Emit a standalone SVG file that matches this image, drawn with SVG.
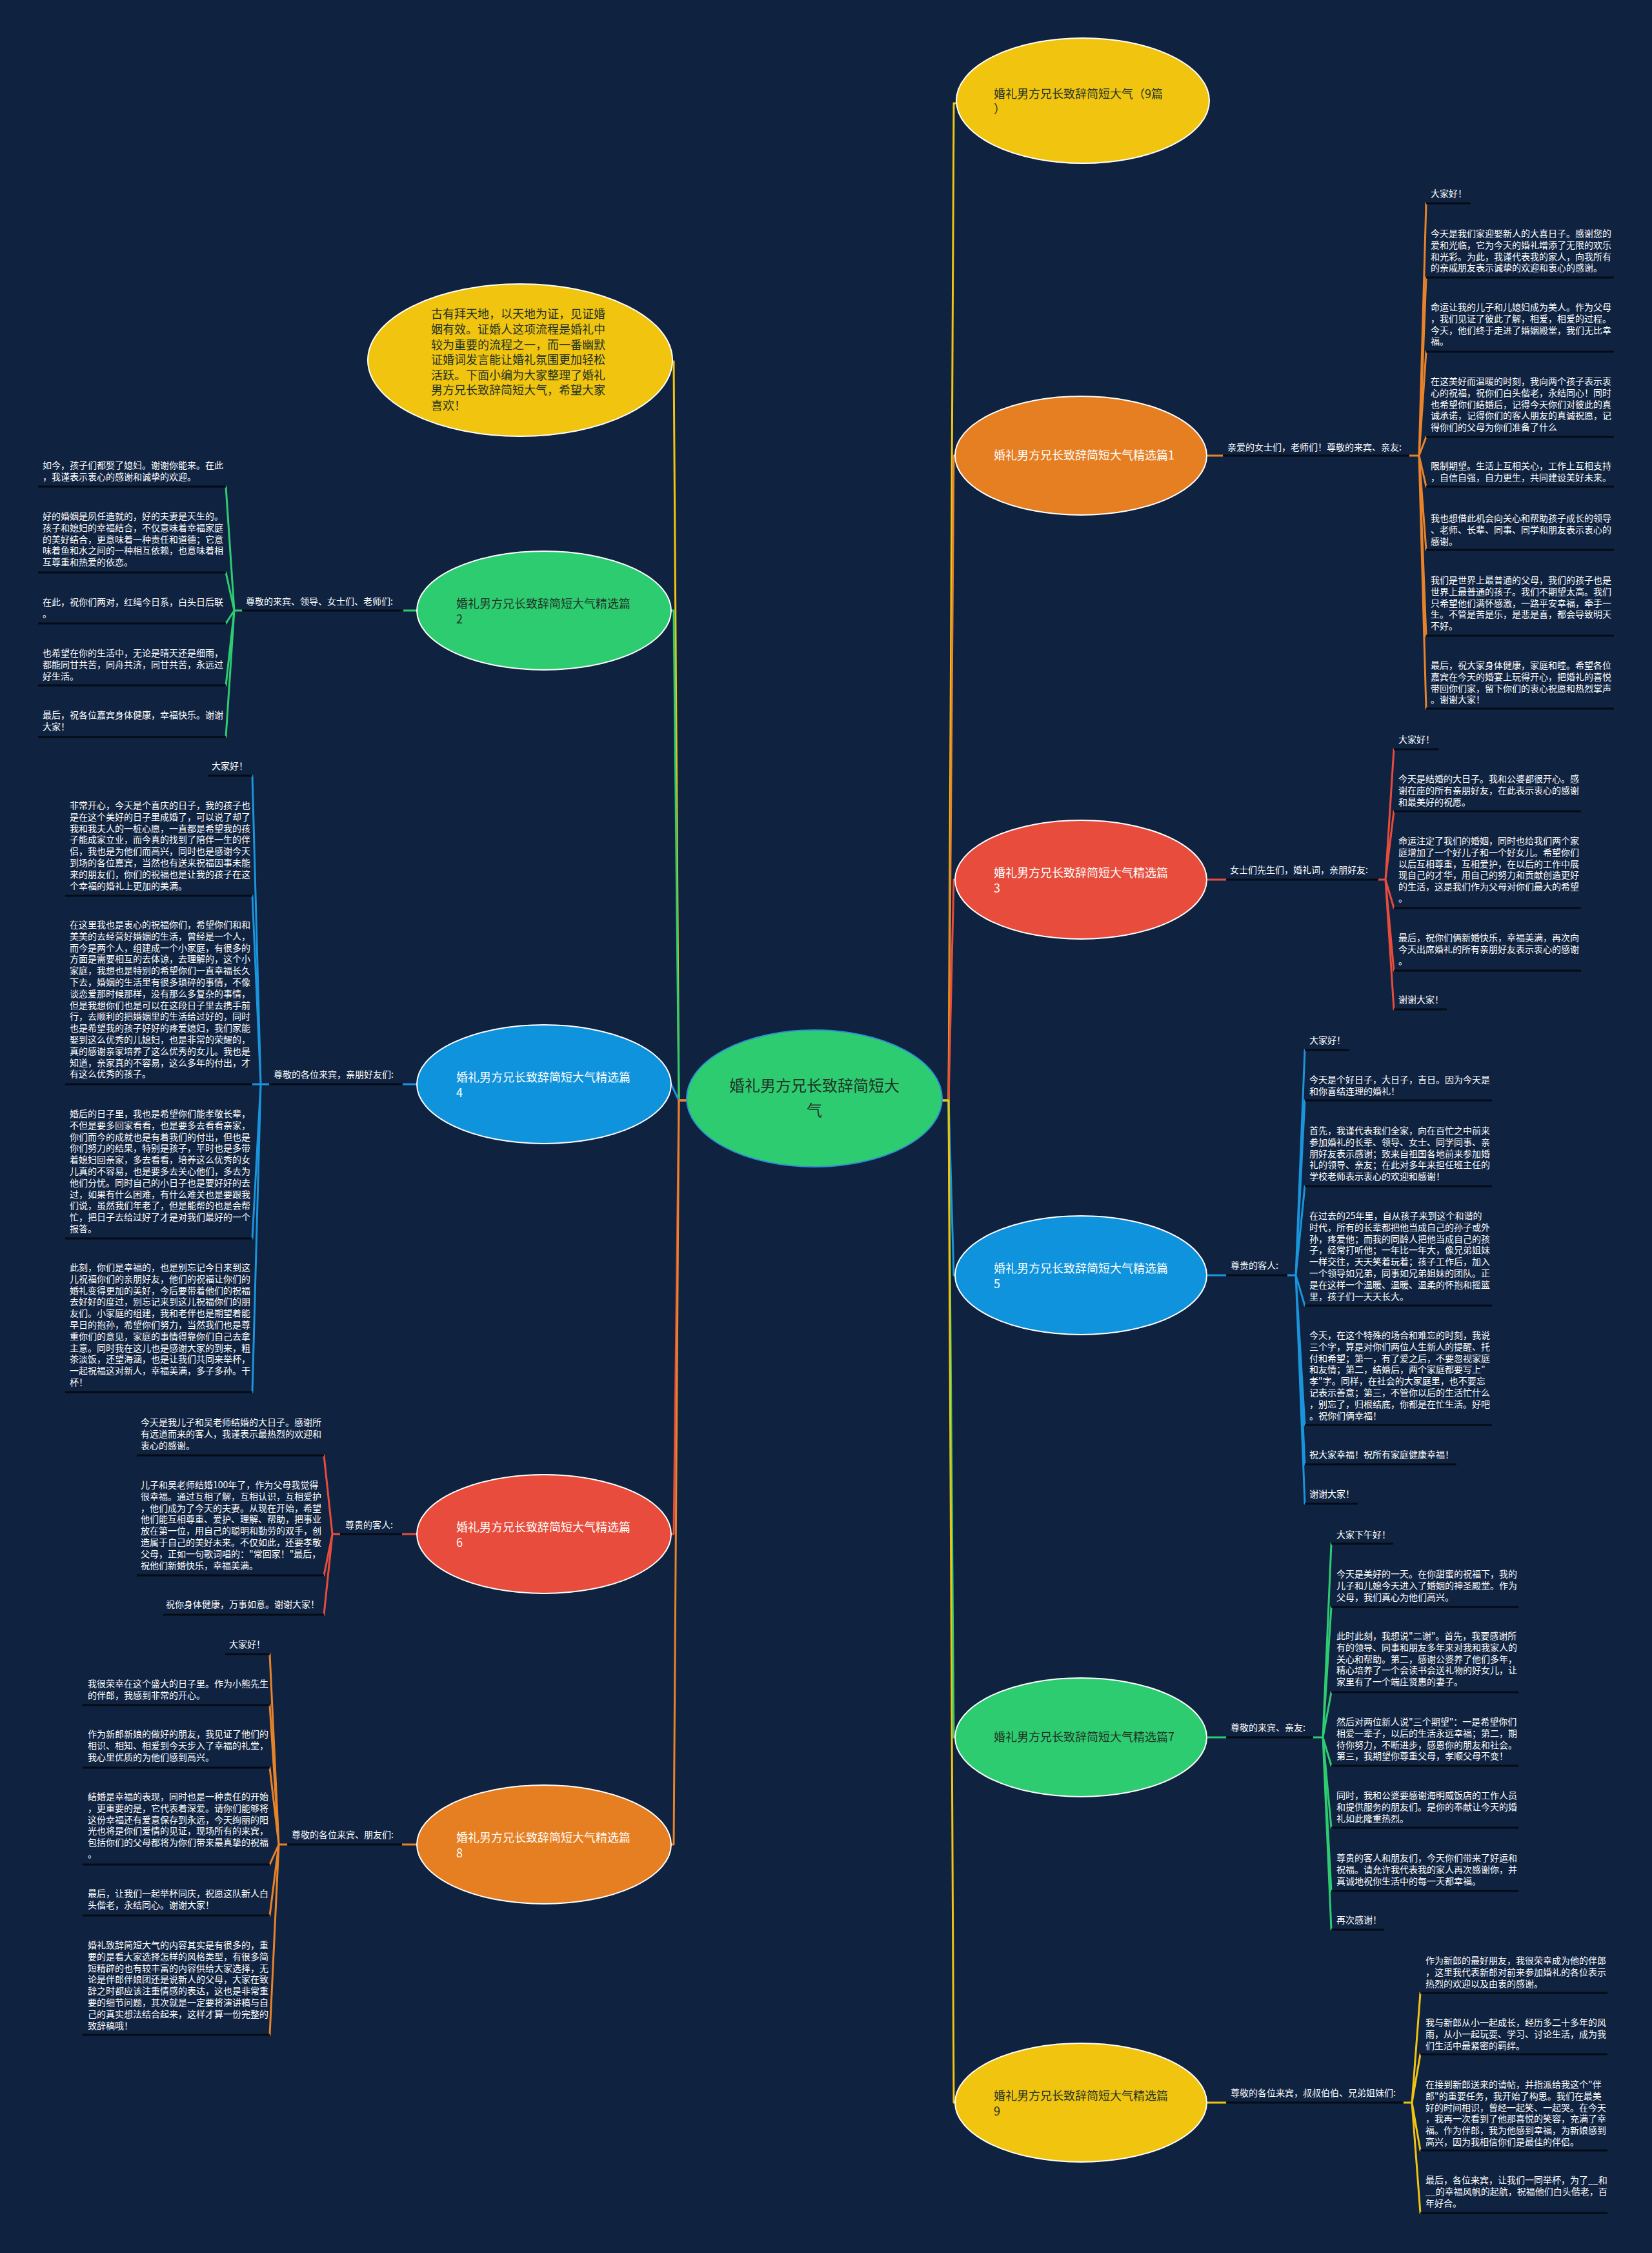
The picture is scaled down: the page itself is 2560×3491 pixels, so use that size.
<svg xmlns="http://www.w3.org/2000/svg" width="2560" height="3491" viewBox="0 0 2560 3491">
<style>
text{font-family:"Noto Sans CJK SC","Noto Sans",sans-serif}
.lf{font-size:14px;fill:#ffffff}
.lb{font-size:14px;fill:#ffffff}
.nt{font-size:18px}
.dk{fill:#1f3326}
.wt{fill:#ffffff}
.ul{stroke:#050b15;stroke-width:3;fill:none}
.c{fill:none;stroke-width:3;stroke-linecap:round;stroke-linejoin:round}
.cy{stroke:#f1c40f}.co{stroke:#e8832a}.cr{stroke:#e74c3c}.cb{stroke:#1a94db}.cg{stroke:#2ecc71}
.ey{fill:#f1c40f}.eo{fill:#e67e22}.er{fill:#e74c3c}.eb{fill:#0f93dc}.eg{fill:#2ecc71}
.ew{stroke:#ffffff;stroke-width:2}
</style>
<rect width="2560" height="3491" fill="#0f2341"/>

<g id="connectors">
<path class="c cy" d="M1064 1705 H1052 L1044 560 H1040"/>
<path class="c cg" d="M1064 1705 H1052 L1044 946 H1038"/>
<path class="c cb" d="M1064 1705 H1052 L1040 1680"/>
<path class="c cr" d="M1064 1705 H1052 L1044 2377 H1038"/>
<path class="c co" d="M1064 1705 H1052 L1044 2858 H1038"/>
<path class="c cy" d="M1460 1705 H1470 L1478 160 H1484"/>
<path class="c co" d="M1460 1705 H1470 L1478 706 H1482"/>
<path class="c cr" d="M1460 1705 H1470 L1478 1363 H1482"/>
<path class="c cb" d="M1460 1705 H1470 L1478 1976 H1482"/>
<path class="c cg" d="M1460 1705 H1470 L1478 2692 H1482"/>
<path class="c cy" d="M1460 1705 H1470 L1478 3258 H1482"/>
<!-- G1 -->
<path class="c co" d="M1870 706 H1895 M2184 706 H2199 M2199 706 L2210 315 M2199 706 L2210 430 M2199 706 L2210 545 M2199 706 L2210 677 M2199 706 L2210 754 M2199 706 L2210 852 M2199 706 L2210 985 M2199 706 L2210 1098"/>
<!-- G3 -->
<path class="c cr" d="M1870 1363 H1900 M2136 1363 H2147 M2147 1363 L2160 1161 M2147 1363 L2160 1257 M2147 1363 L2160 1407 M2147 1363 L2160 1504 M2147 1363 L2160 1564"/>
<!-- G5 -->
<path class="c cb" d="M1870 1976 H1900 M1995 1976 H2008 M2008 1976 L2022 1627 M2008 1976 L2022 1705 M2008 1976 L2022 1838 M2008 1976 L2022 2023 M2008 1976 L2022 2208 M2008 1976 L2022 2269 M2008 1976 L2022 2330"/>
<!-- G7 -->
<path class="c cg" d="M1870 2692 H1900 M2035 2692 H2050 M2050 2692 L2063 2392 M2050 2692 L2063 2490 M2050 2692 L2063 2622 M2050 2692 L2063 2736 M2050 2692 L2063 2832 M2050 2692 L2063 2930 M2050 2692 L2063 2990"/>
<!-- G9 -->
<path class="c cy" d="M1870 3258 H1900 M2175 3258 H2188 M2188 3258 L2201 3088 M2188 3258 L2201 3183 M2188 3258 L2201 3332 M2188 3258 L2201 3429"/>
<!-- G2 -->
<path class="c cg" d="M646 946 H625 M375 946 H363 M363 946 L350 754 M363 946 L350 887 M363 946 L350 966 M363 946 L350 1062 M363 946 L350 1142"/>
<!-- G4 -->
<path class="c cb" d="M646 1680 H624 M417 1680 H404 M404 1680 L391 1202 M404 1680 L391 1388 M404 1680 L391 1680 M404 1680 L391 1919 M404 1680 L391 2157"/>
<!-- G6 -->
<path class="c cr" d="M646 2377 H623 M527 2377 H515 M515 2377 L502 2255 M515 2377 L502 2441 M515 2377 L502 2502"/>
<!-- G8 -->
<path class="c co" d="M646 2858 H623 M445 2858 H432 M432 2858 L418 2563 M432 2858 L418 2642 M432 2858 L418 2739 M432 2858 L418 2889 M432 2858 L418 2968 M432 2858 L418 3153"/>
</g>

<g id="center">
<ellipse cx="1262" cy="1702" rx="198" ry="106" class="eg" stroke="#2d8fd6" stroke-width="2"/>
<text class="dk" font-size="24" text-anchor="middle"><tspan x="1262" y="1691">婚礼男方兄长致辞简短大</tspan><tspan x="1262" y="1729">气</tspan></text>
</g>

<g id="title">
<ellipse cx="1678" cy="156" rx="196" ry="97" class="ey ew"/>
<text class="nt dk"><tspan x="1540" y="152">婚礼男方兄长致辞简短大气（9篇</tspan><tspan x="1540" y="175">）</tspan></text>
</g>

<g id="intro">
<ellipse cx="806" cy="558" rx="236" ry="118" class="ey ew"/>
<text class="nt dk"><tspan x="668" y="493">古有拜天地，以天地为证，见证婚</tspan><tspan x="668" y="517">姻有效。证婚人这项流程是婚礼中</tspan><tspan x="668" y="541">较为重要的流程之一，而一番幽默</tspan><tspan x="668" y="564">证婚词发言能让婚礼氛围更加轻松</tspan><tspan x="668" y="588">活跃。下面小编为大家整理了婚礼</tspan><tspan x="668" y="611">男方兄长致辞简短大气，希望大家</tspan><tspan x="668" y="635">喜欢！</tspan></text>
</g>

<g id="n1">
<ellipse cx="1675" cy="706" rx="195" ry="92" class="eo ew"/>
<text class="nt wt" x="1540" y="712">婚礼男方兄长致辞简短大气精选篇1</text>
</g>
<g id="n1-label"><text class="lb" x="1902" y="698">亲爱的女士们，老师们！尊敬的来宾、亲友:</text><path class="ul" d="M1895 706 H2184"/></g>
<g id="n1-leaves" class="lf">
<g id="n1-a"><text x="2217" y="305">大家好！</text><path class="ul" d="M2210 315 H2279"/></g>
<g id="n1-b"><text y="367"><tspan x="2217">今天是我们家迎娶新人的大喜日子。感谢您的</tspan><tspan x="2217" dy="17.8">爱和光临，它为今天的婚礼增添了无限的欢乐</tspan><tspan x="2217" dy="17.8">和光彩。为此，我谨代表我的家人，向我所有</tspan><tspan x="2217" dy="17.8">的亲戚朋友表示诚挚的欢迎和衷心的感谢。</tspan></text><path class="ul" d="M2210 430 H2501"/></g>
<g id="n1-c"><text y="481"><tspan x="2217">命运让我的儿子和儿媳妇成为美人。作为父母</tspan><tspan x="2217" dy="17.8">，我们见证了彼此了解，相爱，相爱的过程。</tspan><tspan x="2217" dy="17.8">今天，他们终于走进了婚姻殿堂，我们无比幸</tspan><tspan x="2217" dy="17.8">福。</tspan></text><path class="ul" d="M2210 545 H2501"/></g>
<g id="n1-d"><text y="596"><tspan x="2217">在这美好而温暖的时刻，我向两个孩子表示衷</tspan><tspan x="2217" dy="17.8">心的祝福，祝你们白头偕老，永结同心！同时</tspan><tspan x="2217" dy="17.8">也希望你们结婚后，记得今天你们对彼此的真</tspan><tspan x="2217" dy="17.8">诚承诺，记得你们的客人朋友的真诚祝愿，记</tspan><tspan x="2217" dy="17.8">得你们的父母为你们准备了什么</tspan></text><path class="ul" d="M2210 677 H2501"/></g>
<g id="n1-e"><text y="727"><tspan x="2217">限制期望。生活上互相关心，工作上互相支持</tspan><tspan x="2217" dy="17.8">，自信自强，自力更生，共同建设美好未来。</tspan></text><path class="ul" d="M2210 754 H2501"/></g>
<g id="n1-f"><text y="808"><tspan x="2217">我也想借此机会向关心和帮助孩子成长的领导</tspan><tspan x="2217" dy="17.8">、老师、长辈、同事、同学和朋友表示衷心的</tspan><tspan x="2217" dy="17.8">感谢。</tspan></text><path class="ul" d="M2210 852 H2501"/></g>
<g id="n1-g"><text y="904"><tspan x="2217">我们是世界上最普通的父母，我们的孩子也是</tspan><tspan x="2217" dy="17.8">世界上最普通的孩子。我们不期望太高。我们</tspan><tspan x="2217" dy="17.8">只希望他们满怀感激，一路平安幸福，牵手一</tspan><tspan x="2217" dy="17.8">生。不管是苦是乐，是悲是喜，都会导致明天</tspan><tspan x="2217" dy="17.8">不好。</tspan></text><path class="ul" d="M2210 985 H2501"/></g>
<g id="n1-h"><text y="1036"><tspan x="2217">最后，祝大家身体健康，家庭和睦。希望各位</tspan><tspan x="2217" dy="17.8">嘉宾在今天的婚宴上玩得开心，把婚礼的喜悦</tspan><tspan x="2217" dy="17.8">带回你们家，留下你们的衷心祝愿和热烈掌声</tspan><tspan x="2217" dy="17.8">。谢谢大家！</tspan></text><path class="ul" d="M2210 1098 H2501"/></g>
</g>

<g id="n3">
<ellipse cx="1675" cy="1363" rx="195" ry="92" class="er ew"/>
<text class="nt wt"><tspan x="1540" y="1359">婚礼男方兄长致辞简短大气精选篇</tspan><tspan x="1540" y="1383">3</tspan></text>
</g>
<g id="n3-label"><text class="lb" x="1906" y="1353">女士们先生们，婚礼词，亲朋好友:</text><path class="ul" d="M1900 1363 H2136"/></g>
<g id="n3-leaves" class="lf">
<g id="n3-a"><text x="2167" y="1151">大家好！</text><path class="ul" d="M2160 1161 H2229"/></g>
<g id="n3-b"><text y="1212"><tspan x="2167">今天是结婚的大日子。我和公婆都很开心。感</tspan><tspan x="2167" dy="17.8">谢在座的所有亲朋好友，在此表示衷心的感谢</tspan><tspan x="2167" dy="17.8">和最美好的祝愿。</tspan></text><path class="ul" d="M2160 1257 H2450"/></g>
<g id="n3-c"><text y="1308"><tspan x="2167">命运注定了我们的婚姻，同时也给我们两个家</tspan><tspan x="2167" dy="17.8">庭增加了一个好儿子和一个好女儿。希望你们</tspan><tspan x="2167" dy="17.8">以后互相尊重，互相爱护，在以后的工作中展</tspan><tspan x="2167" dy="17.8">现自己的才华，用自己的努力和贡献创造更好</tspan><tspan x="2167" dy="17.8">的生活，这是我们作为父母对你们最大的希望</tspan><tspan x="2167" dy="17.8">。</tspan></text><path class="ul" d="M2160 1407 H2450"/></g>
<g id="n3-d"><text y="1458"><tspan x="2167">最后，祝你们俩新婚快乐，幸福美满，再次向</tspan><tspan x="2167" dy="17.8">今天出席婚礼的所有亲朋好友表示衷心的感谢</tspan><tspan x="2167" dy="17.8">。</tspan></text><path class="ul" d="M2160 1504 H2450"/></g>
<g id="n3-e"><text x="2167" y="1554">谢谢大家！</text><path class="ul" d="M2160 1564 H2242"/></g>
</g>

<g id="n5">
<ellipse cx="1675" cy="1976" rx="195" ry="92" class="eb ew"/>
<text class="nt wt"><tspan x="1540" y="1972">婚礼男方兄长致辞简短大气精选篇</tspan><tspan x="1540" y="1996">5</tspan></text>
</g>
<g id="n5-label"><text class="lb" x="1907" y="1966">尊贵的客人:</text><path class="ul" d="M1900 1976 H1995"/></g>
<g id="n5-leaves" class="lf">
<g id="n5-a"><text x="2029" y="1617">大家好！</text><path class="ul" d="M2022 1627 H2091"/></g>
<g id="n5-b"><text y="1678"><tspan x="2029">今天是个好日子，大日子，吉日。因为今天是</tspan><tspan x="2029" dy="17.8">和你喜结连理的婚礼！</tspan></text><path class="ul" d="M2022 1705 H2312"/></g>
<g id="n5-c"><text y="1757"><tspan x="2029">首先，我谨代表我们全家，向在百忙之中前来</tspan><tspan x="2029" dy="17.8">参加婚礼的长辈、领导、女士、同学同事、亲</tspan><tspan x="2029" dy="17.8">朋好友表示感谢；致来自祖国各地前来参加婚</tspan><tspan x="2029" dy="17.8">礼的领导、亲友；在此对多年来担任班主任的</tspan><tspan x="2029" dy="17.8">学校老师表示衷心的欢迎和感谢！</tspan></text><path class="ul" d="M2022 1838 H2312"/></g>
<g id="n5-d"><text y="1889"><tspan x="2029">在过去的25年里，自从孩子来到这个和谐的</tspan><tspan x="2029" dy="17.8">时代，所有的长辈都把他当成自己的孙子或外</tspan><tspan x="2029" dy="17.8">孙，疼爱他；而我的同龄人把他当成自己的孩</tspan><tspan x="2029" dy="17.8">子，经常打听他；一年比一年大，像兄弟姐妹</tspan><tspan x="2029" dy="17.8">一样交往，天天笑着玩着；孩子工作后，加入</tspan><tspan x="2029" dy="17.8">一个领导如兄弟，同事如兄弟姐妹的团队。正</tspan><tspan x="2029" dy="17.8">是在这样一个温暖、温暖、温柔的怀抱和摇篮</tspan><tspan x="2029" dy="17.8">里，孩子们一天天长大。</tspan></text><path class="ul" d="M2022 2023 H2312"/></g>
<g id="n5-e"><text y="2074"><tspan x="2029">今天，在这个特殊的场合和难忘的时刻，我说</tspan><tspan x="2029" dy="17.8">三个字，算是对你们两位人生新人的提醒、托</tspan><tspan x="2029" dy="17.8">付和希望；第一，有了爱之后，不要忽视家庭</tspan><tspan x="2029" dy="17.8">和友情；第二，结婚后，两个家庭都要写上"</tspan><tspan x="2029" dy="17.8">孝"字。同样，在社会的大家庭里，也不要忘</tspan><tspan x="2029" dy="17.8">记表示善意；第三，不管你以后的生活忙什么</tspan><tspan x="2029" dy="17.8">，别忘了，归根结底，你都是在忙生活。好吧</tspan><tspan x="2029" dy="17.8">。祝你们俩幸福！</tspan></text><path class="ul" d="M2022 2208 H2312"/></g>
<g id="n5-f"><text x="2029" y="2259">祝大家幸福！祝所有家庭健康幸福！</text><path class="ul" d="M2022 2269 H2257"/></g>
<g id="n5-g"><text x="2029" y="2320">谢谢大家！</text><path class="ul" d="M2022 2330 H2104"/></g>
</g>

<g id="n7">
<ellipse cx="1675" cy="2692" rx="195" ry="92" class="eg ew"/>
<text class="nt dk" x="1540" y="2698">婚礼男方兄长致辞简短大气精选篇7</text>
</g>
<g id="n7-label"><text class="lb" x="1907" y="2682">尊敬的来宾、亲友:</text><path class="ul" d="M1900 2692 H2035"/></g>
<g id="n7-leaves" class="lf">
<g id="n7-a"><text x="2071" y="2383">大家下午好！</text><path class="ul" d="M2063 2392 H2159"/></g>
<g id="n7-b"><text y="2444"><tspan x="2071">今天是美好的一天。在你甜蜜的祝福下，我的</tspan><tspan x="2071" dy="17.8">儿子和儿媳今天进入了婚姻的神圣殿堂。作为</tspan><tspan x="2071" dy="17.8">父母，我们真心为他们高兴。</tspan></text><path class="ul" d="M2063 2490 H2353"/></g>
<g id="n7-c"><text y="2540"><tspan x="2071">此时此刻，我想说"二谢"。首先，我要感谢所</tspan><tspan x="2071" dy="17.8">有的领导、同事和朋友多年来对我和我家人的</tspan><tspan x="2071" dy="17.8">关心和帮助。第二，感谢公婆养了他们多年，</tspan><tspan x="2071" dy="17.8">精心培养了一个会读书会送礼物的好女儿，让</tspan><tspan x="2071" dy="17.8">家里有了一个端庄贤惠的妻子。</tspan></text><path class="ul" d="M2063 2622 H2353"/></g>
<g id="n7-d"><text y="2673"><tspan x="2071">然后对两位新人说"三个期望"：一是希望你们</tspan><tspan x="2071" dy="17.8">相爱一辈子，以后的生活永远幸福；第二，期</tspan><tspan x="2071" dy="17.8">待你努力，不断进步，感恩你的朋友和社会。</tspan><tspan x="2071" dy="17.8">第三，我期望你尊重父母，孝顺父母不变！</tspan></text><path class="ul" d="M2063 2736 H2353"/></g>
<g id="n7-e"><text y="2787"><tspan x="2071">同时，我和公婆要感谢海明威饭店的工作人员</tspan><tspan x="2071" dy="17.8">和提供服务的朋友们。是你的奉献让今天的婚</tspan><tspan x="2071" dy="17.8">礼如此隆重热烈。</tspan></text><path class="ul" d="M2063 2832 H2353"/></g>
<g id="n7-f"><text y="2884"><tspan x="2071">尊贵的客人和朋友们，今天你们带来了好运和</tspan><tspan x="2071" dy="17.8">祝福。请允许我代表我的家人再次感谢你，并</tspan><tspan x="2071" dy="17.8">真诚地祝你生活中的每一天都幸福。</tspan></text><path class="ul" d="M2063 2930 H2353"/></g>
<g id="n7-g"><text x="2071" y="2980">再次感谢！</text><path class="ul" d="M2063 2990 H2145"/></g>
</g>

<g id="n9">
<ellipse cx="1675" cy="3258" rx="195" ry="92" class="ey ew"/>
<text class="nt dk"><tspan x="1540" y="3254">婚礼男方兄长致辞简短大气精选篇</tspan><tspan x="1540" y="3278">9</tspan></text>
</g>
<g id="n9-label"><text class="lb" x="1907" y="3248">尊敬的各位来宾，叔叔伯伯、兄弟姐妹们:</text><path class="ul" d="M1900 3258 H2175"/></g>
<g id="n9-leaves" class="lf">
<g id="n9-a"><text y="3043"><tspan x="2209">作为新郎的最好朋友，我很荣幸成为他的伴郎</tspan><tspan x="2209" dy="17.8">，这里我代表新郎对前来参加婚礼的各位表示</tspan><tspan x="2209" dy="17.8">热烈的欢迎以及由衷的感谢。</tspan></text><path class="ul" d="M2201 3088 H2491"/></g>
<g id="n9-b"><text y="3139"><tspan x="2209">我与新郎从小一起成长，经历多二十多年的风</tspan><tspan x="2209" dy="17.8">雨，从小一起玩耍、学习、讨论生活，成为我</tspan><tspan x="2209" dy="17.8">们生活中最紧密的羁绊。</tspan></text><path class="ul" d="M2201 3183 H2491"/></g>
<g id="n9-c"><text y="3235"><tspan x="2209">在接到新郎送来的请帖，并指派给我这个"伴</tspan><tspan x="2209" dy="17.8">郎"的重要任务，我开始了构思。我们在最美</tspan><tspan x="2209" dy="17.8">好的时间相识，曾经一起笑、一起哭。在今天</tspan><tspan x="2209" dy="17.8">，我再一次看到了他那喜悦的笑容，充满了幸</tspan><tspan x="2209" dy="17.8">福。作为伴郎，我为他感到幸福，为新娘感到</tspan><tspan x="2209" dy="17.8">高兴，因为我相信你们是最佳的伴侣。</tspan></text><path class="ul" d="M2201 3332 H2491"/></g>
<g id="n9-d"><text y="3383"><tspan x="2209">最后，各位来宾，让我们一同举杯，为了__和</tspan><tspan x="2209" dy="17.8">__的幸福风帆的起航，祝福他们白头偕老，百</tspan><tspan x="2209" dy="17.8">年好合。</tspan></text><path class="ul" d="M2201 3429 H2491"/></g>
</g>

<g id="n2">
<ellipse cx="843" cy="946" rx="197" ry="92" class="eg ew"/>
<text class="nt dk"><tspan x="707" y="942">婚礼男方兄长致辞简短大气精选篇</tspan><tspan x="707" y="966">2</tspan></text>
</g>
<g id="n2-label"><text class="lb" x="381" y="937">尊敬的来宾、领导、女士们、老师们:</text><path class="ul" d="M375 946 H625"/></g>
<g id="n2-leaves" class="lf">
<g id="n2-a"><text y="726"><tspan x="66">如今，孩子们都娶了媳妇。谢谢你能来。在此</tspan><tspan x="66" dy="17.8">，我谨表示衷心的感谢和诚挚的欢迎。</tspan></text><path class="ul" d="M59 754 H350"/></g>
<g id="n2-b"><text y="805"><tspan x="66">好的婚姻是夙任造就的，好的夫妻是天生的。</tspan><tspan x="66" dy="17.8">孩子和媳妇的幸福结合，不仅意味着幸福家庭</tspan><tspan x="66" dy="17.8">的美好结合，更意味着一种责任和道德；它意</tspan><tspan x="66" dy="17.8">味着鱼和水之间的一种相互依赖，也意味着相</tspan><tspan x="66" dy="17.8">互尊重和热爱的依恋。</tspan></text><path class="ul" d="M59 887 H350"/></g>
<g id="n2-c"><text y="938"><tspan x="66">在此，祝你们两对，红绳今日系，白头日后联</tspan><tspan x="66" dy="17.8">。</tspan></text><path class="ul" d="M59 966 H350"/></g>
<g id="n2-d"><text y="1017"><tspan x="66">也希望在你的生活中，无论是晴天还是细雨，</tspan><tspan x="66" dy="17.8">都能同甘共苦，同舟共济，同甘共苦，永远过</tspan><tspan x="66" dy="17.8">好生活。</tspan></text><path class="ul" d="M59 1062 H350"/></g>
<g id="n2-e"><text y="1113"><tspan x="66">最后，祝各位嘉宾身体健康，幸福快乐。谢谢</tspan><tspan x="66" dy="17.8">大家！</tspan></text><path class="ul" d="M59 1142 H350"/></g>
</g>

<g id="n4">
<ellipse cx="843" cy="1680" rx="197" ry="92" class="eb ew"/>
<text class="nt wt"><tspan x="707" y="1676">婚礼男方兄长致辞简短大气精选篇</tspan><tspan x="707" y="1700">4</tspan></text>
</g>
<g id="n4-label"><text class="lb" x="424" y="1670">尊敬的各位来宾，亲朋好友们:</text><path class="ul" d="M417 1680 H624"/></g>
<g id="n4-leaves" class="lf">
<g id="n4-a"><text x="384" y="1192" text-anchor="end">大家好！</text><path class="ul" d="M322 1202 H391"/></g>
<g id="n4-b"><text y="1253"><tspan x="108">非常开心，今天是个喜庆的日子，我的孩子也</tspan><tspan x="108" dy="17.8">是在这个美好的日子里成婚了，可以说了却了</tspan><tspan x="108" dy="17.8">我和我夫人的一桩心愿，一直都是希望我的孩</tspan><tspan x="108" dy="17.8">子能成家立业，而今真的找到了陪伴一生的伴</tspan><tspan x="108" dy="17.8">侣，我也是为他们而高兴，同时也是感谢今天</tspan><tspan x="108" dy="17.8">到场的各位嘉宾，当然也有送来祝福因事未能</tspan><tspan x="108" dy="17.8">来的朋友们，你们的祝福也是让我的孩子在这</tspan><tspan x="108" dy="17.8">个幸福的婚礼上更加的美满。</tspan></text><path class="ul" d="M101 1388 H391"/></g>
<g id="n4-c"><text y="1438"><tspan x="108">在这里我也是衷心的祝福你们，希望你们和和</tspan><tspan x="108" dy="17.8">美美的去经营好婚姻的生活，曾经是一个人，</tspan><tspan x="108" dy="17.8">而今是两个人，组建成一个小家庭，有很多的</tspan><tspan x="108" dy="17.8">方面是需要相互的去体谅，去理解的，这个小</tspan><tspan x="108" dy="17.8">家庭，我想也是特别的希望你们一直幸福长久</tspan><tspan x="108" dy="17.8">下去，婚姻的生活里有很多琐碎的事情，不像</tspan><tspan x="108" dy="17.8">谈恋爱那时候那样，没有那么多复杂的事情，</tspan><tspan x="108" dy="17.8">但是我想你们也是可以在这段日子里去携手前</tspan><tspan x="108" dy="17.8">行，去顺利的把婚姻里的生活给过好的，同时</tspan><tspan x="108" dy="17.8">也是希望我的孩子好好的疼爱媳妇，我们家能</tspan><tspan x="108" dy="17.8">娶到这么优秀的儿媳妇，也是非常的荣耀的，</tspan><tspan x="108" dy="17.8">真的感谢亲家培养了这么优秀的女儿。我也是</tspan><tspan x="108" dy="17.8">知道，亲家真的不容易，这么多年的付出，才</tspan><tspan x="108" dy="17.8">有这么优秀的孩子。</tspan></text><path class="ul" d="M101 1680 H391"/></g>
<g id="n4-d"><text y="1731"><tspan x="108">婚后的日子里，我也是希望你们能孝敬长辈，</tspan><tspan x="108" dy="17.8">不但是要多回家看看，也是要多去看看亲家，</tspan><tspan x="108" dy="17.8">你们而今的成就也是有着我们的付出，但也是</tspan><tspan x="108" dy="17.8">你们努力的结果，特别是孩子，平时也是多带</tspan><tspan x="108" dy="17.8">着媳妇回亲家，多去看看，培养这么优秀的女</tspan><tspan x="108" dy="17.8">儿真的不容易，也是要多去关心他们，多去为</tspan><tspan x="108" dy="17.8">他们分忧。同时自己的小日子也是要好好的去</tspan><tspan x="108" dy="17.8">过，如果有什么困难，有什么难关也是要跟我</tspan><tspan x="108" dy="17.8">们说，虽然我们年老了，但是能帮的也是会帮</tspan><tspan x="108" dy="17.8">忙，把日子去给过好了才是对我们最好的一个</tspan><tspan x="108" dy="17.8">报答。</tspan></text><path class="ul" d="M101 1919 H391"/></g>
<g id="n4-e"><text y="1969"><tspan x="108">此刻，你们是幸福的，也是别忘记今日来到这</tspan><tspan x="108" dy="17.8">儿祝福你们的亲朋好友，他们的祝福让你们的</tspan><tspan x="108" dy="17.8">婚礼变得更加的美好，今后要带着他们的祝福</tspan><tspan x="108" dy="17.8">去好好的度过，别忘记来到这儿祝福你们的朋</tspan><tspan x="108" dy="17.8">友们。小家庭的组建，我和老伴也是期望着能</tspan><tspan x="108" dy="17.8">早日的抱孙，希望你们努力，当然我们也是尊</tspan><tspan x="108" dy="17.8">重你们的意见，家庭的事情得靠你们自己去拿</tspan><tspan x="108" dy="17.8">主意。同时我在这儿也是感谢大家的到来，粗</tspan><tspan x="108" dy="17.8">茶淡饭，还望海涵，也是让我们共同来举杯，</tspan><tspan x="108" dy="17.8">一起祝福这对新人，幸福美满，多子多孙。干</tspan><tspan x="108" dy="17.8">杯！</tspan></text><path class="ul" d="M101 2157 H391"/></g>
</g>

<g id="n6">
<ellipse cx="843" cy="2377" rx="197" ry="92" class="er ew"/>
<text class="nt wt"><tspan x="707" y="2373">婚礼男方兄长致辞简短大气精选篇</tspan><tspan x="707" y="2397">6</tspan></text>
</g>
<g id="n6-label"><text class="lb" x="535" y="2368">尊贵的客人:</text><path class="ul" d="M527 2377 H623"/></g>
<g id="n6-leaves" class="lf">
<g id="n6-a"><text y="2209"><tspan x="218">今天是我儿子和吴老师结婚的大日子。感谢所</tspan><tspan x="218" dy="17.8">有远道而来的客人，我谨表示最热烈的欢迎和</tspan><tspan x="218" dy="17.8">衷心的感谢。</tspan></text><path class="ul" d="M212 2255 H502"/></g>
<g id="n6-b"><text y="2306"><tspan x="218">儿子和吴老师结婚100年了，作为父母我觉得</tspan><tspan x="218" dy="17.8">很幸福。通过互相了解，互相认识，互相爱护</tspan><tspan x="218" dy="17.8">，他们成为了今天的夫妻。从现在开始，希望</tspan><tspan x="218" dy="17.8">他们能互相尊重、爱护、理解、帮助，把事业</tspan><tspan x="218" dy="17.8">放在第一位，用自己的聪明和勤劳的双手，创</tspan><tspan x="218" dy="17.8">造属于自己的美好未来。不仅如此，还要孝敬</tspan><tspan x="218" dy="17.8">父母，正如一句歌词唱的："常回家！"最后，</tspan><tspan x="218" dy="17.8">祝他们新婚快乐，幸福美满。</tspan></text><path class="ul" d="M212 2441 H502"/></g>
<g id="n6-c"><text x="495" y="2491" text-anchor="end">祝你身体健康，万事如意。谢谢大家！</text><path class="ul" d="M253 2502 H502"/></g>
</g>

<g id="n8">
<ellipse cx="843" cy="2858" rx="197" ry="92" class="eo ew"/>
<text class="nt wt"><tspan x="707" y="2854">婚礼男方兄长致辞简短大气精选篇</tspan><tspan x="707" y="2878">8</tspan></text>
</g>
<g id="n8-label"><text class="lb" x="452" y="2848">尊敬的各位来宾、朋友们:</text><path class="ul" d="M445 2858 H623"/></g>
<g id="n8-leaves" class="lf">
<g id="n8-a"><text x="411" y="2553" text-anchor="end">大家好！</text><path class="ul" d="M349 2563 H418"/></g>
<g id="n8-b"><text y="2614"><tspan x="136">我很荣幸在这个盛大的日子里。作为小熊先生</tspan><tspan x="136" dy="17.8">的伴郎，我感到非常的开心。</tspan></text><path class="ul" d="M128 2642 H418"/></g>
<g id="n8-c"><text y="2692"><tspan x="136">作为新郎新娘的做好的朋友，我见证了他们的</tspan><tspan x="136" dy="17.8">相识、相知、相爱到今天步入了幸福的礼堂，</tspan><tspan x="136" dy="17.8">我心里优质的为他们感到高兴。</tspan></text><path class="ul" d="M128 2739 H418"/></g>
<g id="n8-d"><text y="2789"><tspan x="136">结婚是幸福的表现，同时也是一种责任的开始</tspan><tspan x="136" dy="17.8">，更重要的是，它代表着深爱。请你们能够将</tspan><tspan x="136" dy="17.8">这份幸福还有爱意保存到永远，今天绚丽的阳</tspan><tspan x="136" dy="17.8">光也将是你们爱情的见证，现场所有的来宾，</tspan><tspan x="136" dy="17.8">包括你们的父母都将为你们带来最真挚的祝福</tspan><tspan x="136" dy="17.8">。</tspan></text><path class="ul" d="M128 2889 H418"/></g>
<g id="n8-e"><text y="2939"><tspan x="136">最后，让我们一起举杯同庆，祝愿这队新人白</tspan><tspan x="136" dy="17.8">头偕老，永结同心。谢谢大家！</tspan></text><path class="ul" d="M128 2968 H418"/></g>
<g id="n8-f"><text y="3019"><tspan x="136">婚礼致辞简短大气的内容其实是有很多的，重</tspan><tspan x="136" dy="17.8">要的是看大家选择怎样的风格类型，有很多简</tspan><tspan x="136" dy="17.8">短精辟的也有较丰富的内容供给大家选择，无</tspan><tspan x="136" dy="17.8">论是伴郎伴娘团还是说新人的父母，大家在致</tspan><tspan x="136" dy="17.8">辞之时都应该注重情感的表达，这也是非常重</tspan><tspan x="136" dy="17.8">要的细节问题，其次就是一定要将演讲稿与自</tspan><tspan x="136" dy="17.8">己的真实想法结合起来，这样才算一份完整的</tspan><tspan x="136" dy="17.8">致辞稿哦！</tspan></text><path class="ul" d="M128 3153 H418"/></g>
</g>
</svg>
